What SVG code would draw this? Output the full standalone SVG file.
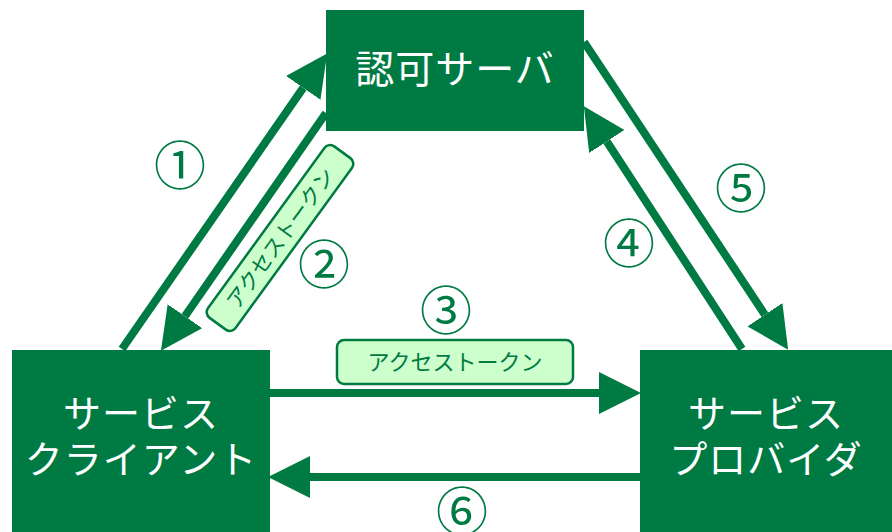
<svg xmlns="http://www.w3.org/2000/svg" width="892" height="532" viewBox="0 0 892 532">
<defs>
<marker id="ah" markerUnits="userSpaceOnUse" markerWidth="42" markerHeight="42" viewBox="0 0 42 42" refX="0" refY="21" orient="auto">
<path d="M0,0 L42,21 L0,42 z" fill="#007A43"/>
</marker>
<style>
.node{fill:#007A43}
.nt{fill:#fff;font-family:"Noto Sans CJK JP","Noto Sans",sans-serif;font-size:38px;text-anchor:middle;letter-spacing:1px}
.conn{stroke:#007A43;stroke-width:8;fill:none;marker-end:url(#ah)}
.lab{fill:#CCFFCC;stroke:#007A43;stroke-width:2.5}
.lt{fill:#007A43;font-family:"Noto Sans CJK JP","Noto Sans",sans-serif;font-size:22px;text-anchor:middle}
.num{fill:#007A43;font-family:"Noto Sans CJK JP","Noto Sans",sans-serif;font-size:52px;text-anchor:middle}
</style>
</defs>
<rect width="892" height="532" fill="#fff"/>
<g id="connectors">
<line class="conn" x1="122" y1="349" x2="303.2" y2="87.9"/>
<line class="conn" x1="326" y1="113" x2="184.9" y2="316.2"/>
<line class="conn" x1="270" y1="393" x2="599" y2="393"/>
<line class="conn" x1="742" y1="349" x2="606.8" y2="141.5"/>
<line class="conn" x1="584" y1="42" x2="764.9" y2="314.7"/>
<line class="conn" x1="640" y1="477" x2="310" y2="477"/>
</g>
<g id="auth-server">
<rect class="node" x="326" y="10" width="258" height="121"/>
<text class="nt" x="455" y="83" style="font-size:39px">認可サーバ</text>
</g>
<g id="service-client">
<rect class="node" x="12" y="350" width="258" height="182"/>
<text class="nt" x="141" y="427">サービス</text>
<text class="nt" x="141" y="473">クライアント</text>
</g>
<g id="service-provider">
<rect class="node" x="640" y="350" width="252" height="182"/>
<text class="nt" x="766" y="427">サービス</text>
<text class="nt" x="766" y="473">プロバイダ</text>
</g>
<g id="label-token-2" transform="translate(280,238) rotate(-54)">
<rect class="lab" x="-106" y="-17" width="212" height="34" rx="7"/>
<text class="lt" x="0" y="8" style="font-size:21px">アクセストークン</text>
</g>
<g id="label-token-3">
<rect class="lab" x="337" y="340" width="236" height="44" rx="7"/>
<text class="lt" x="455" y="370">アクセストークン</text>
</g>
<g id="numbers">
<text class="num" x="180" y="185">①</text>
<text class="num" x="324" y="284">②</text>
<text class="num" x="446" y="330">③</text>
<text class="num" x="629" y="263">④</text>
<text class="num" x="741" y="208">⑤</text>
<text class="num" x="462" y="531">⑥</text>
</g>
</svg>
